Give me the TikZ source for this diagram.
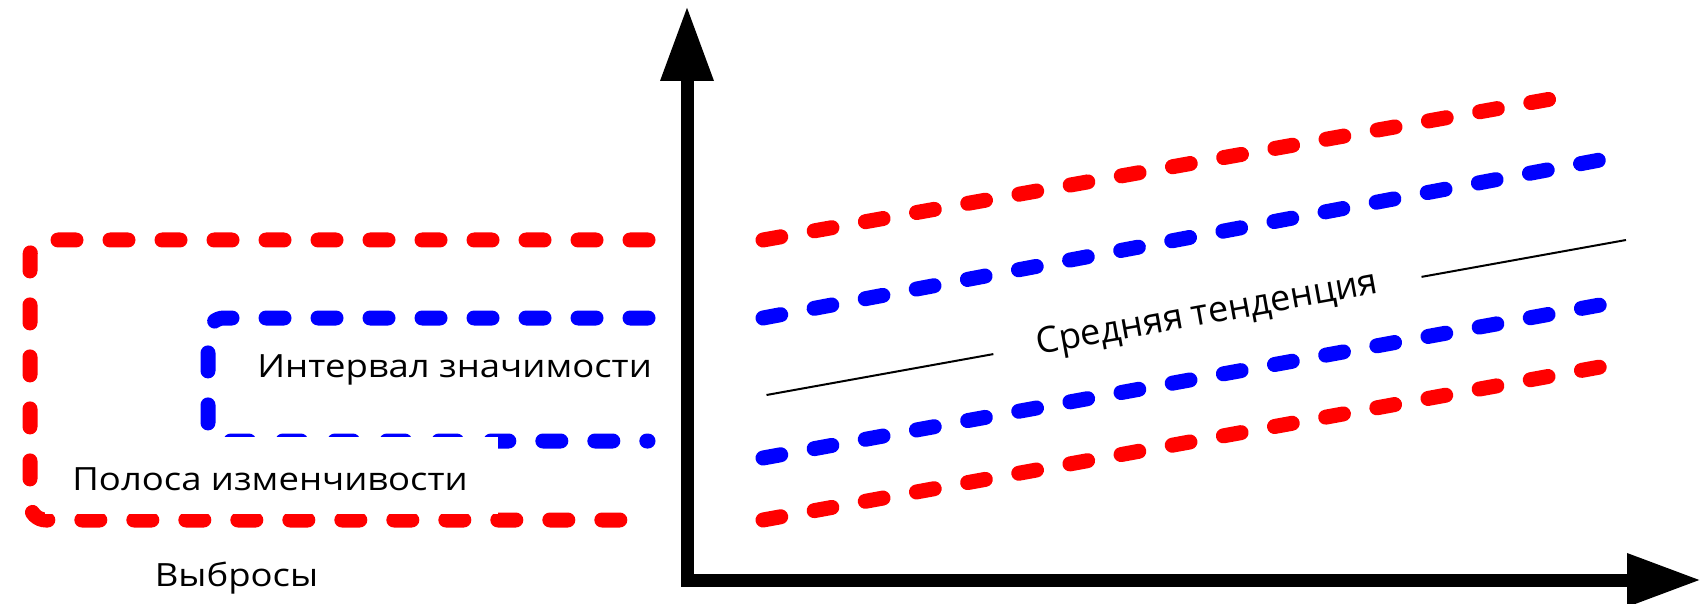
\documentclass[tikz,border=0pt]{standalone}
\usepackage{fontspec}
\setmainfont[FakeStretch=1.14]{Open Sans}
\newfontfamily\trendfont{Open Sans}
\usetikzlibrary{arrows.meta}
\begin{document}
\begin{tikzpicture}[x=0.5pt,y=-0.5pt,
  dashline/.style={line width=7.5pt, line cap=round, dash pattern=on 9pt off 17pt},
  reddash/.style={dashline, draw=red},
  bluedash/.style={dashline, draw=blue},
  axisline/.style={line width=6.5pt, line join=miter,
    {Triangle[length=37.5pt,width=25pt]}-{Triangle[length=37pt,width=25pt]}},
  lbl/.style={font=\fontsize{16}{19}\selectfont, inner sep=0pt},
  trendlabel/.style={font=\trendfont\fontsize{18}{21}\selectfont, inner sep=0pt},
  trend/.style={line width=1pt}]
\useasboundingbox (0,0) rectangle (1701,604);
% left legend boxes
\coordinate (r1) at (648,240);
\coordinate (r2) at (30,240);
\coordinate (r3) at (30,520);
\coordinate (r4) at (648,520);
\draw[reddash, rounded corners=8pt] (r1) -- (r2) -- (r3) -- (r4);
\coordinate (b1) at (648,318);
\coordinate (b2) at (208,318);
\coordinate (b3) at (208,441);
\coordinate (b4) at (648,441);
\draw[bluedash, rounded corners=8pt] (b1) -- (b2) -- (b3) -- (b4);
\node[lbl, anchor=base west] (interval) at (257,377) {Интервал значимости};
\fill[white] (45,437) rectangle (498,514);
\node[lbl, anchor=base west] (polosa) at (72,490) {Полоса изменчивости};
\node[lbl, anchor=base] (vybrosy) at (236.5,586) {Выбросы};
% axes
\coordinate (O) at (687,580);
\coordinate (ytip) at (687,6);
\coordinate (xtip) at (1701,580);
\draw[axisline] (ytip) -- (O) -- (xtip);
% trend bands
\coordinate (rt1) at (763,240);
\coordinate (rt2) at (1551,99);
\coordinate (bt1) at (763,318);
\coordinate (bt2) at (1600,160);
\coordinate (m1) at (766.5,395);
\coordinate (m2) at (1626,240);
\coordinate (bb1) at (763,458);
\coordinate (bb2) at (1600,305);
\coordinate (rb1) at (763,520);
\coordinate (rb2) at (1600,367);
\draw[reddash] (rt1) -- (rt2);
\draw[bluedash] (bt1) -- (bt2);
\draw[trend] (m1) -- (m2) node[trendlabel, pos=0.513, sloped, fill=white, minimum width=217.5pt, minimum height=20pt] (trendlbl) {Средняя тенденция};
\draw[bluedash] (bb1) -- (bb2);
\draw[reddash] (rb1) -- (rb2);
\end{tikzpicture}
\end{document}
